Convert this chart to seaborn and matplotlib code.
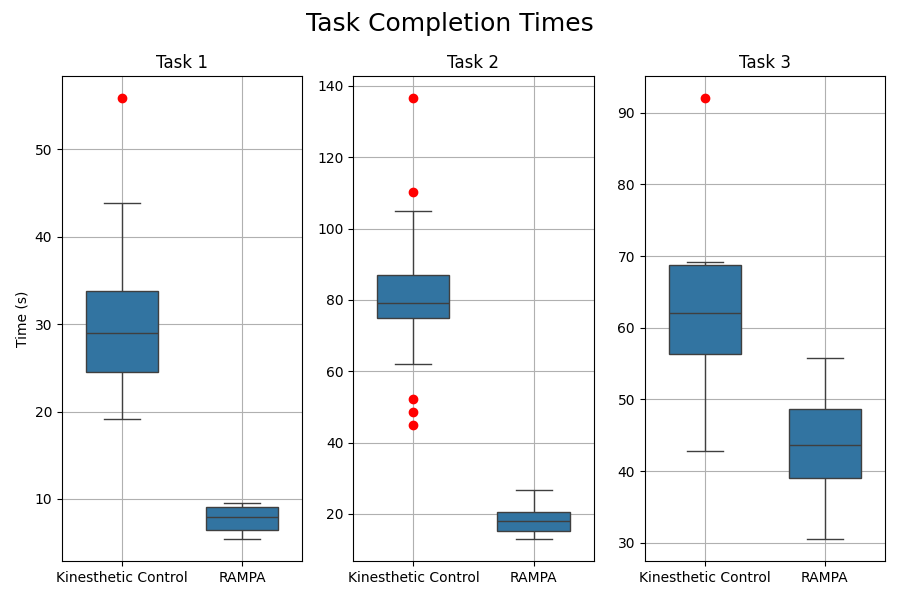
import numpy as np
import pandas as pd
import seaborn as sns
import matplotlib.pyplot as plt

methods = ["Kinesthetic Control", "RAMPA"]
tasks = ["Task 1", "Task 2", "Task 3"]

# times in seconds
task1_kc = [19.1, 22.0, 24.5, 27.0, 29.0, 31.0, 33.8, 43.8, 55.8]
task1_rampa = [5.4, 6.5, 7.9, 9.1, 9.5]
task2_kc = [44.8, 48.6, 52.2, 62.0, 74.8, 76.0, 77.0, 78.0, 79.0,
            81.0, 83.0, 85.0, 87.0, 95.0, 105.0, 110.3, 136.5]
task2_rampa = [12.9, 15.3, 17.9, 20.6, 26.8]
task3_kc = [42.8, 50.0, 56.4, 59.0, 62.0, 65.0, 68.7, 69.2, 92.0]
task3_rampa = [30.5, 39.1, 43.7, 48.7, 55.8]

data = {
    "Task 1": (task1_kc, task1_rampa),
    "Task 2": (task2_kc, task2_rampa),
    "Task 3": (task3_kc, task3_rampa),
}

fig, axes = plt.subplots(1, 3, figsize=(9, 6), dpi=100)

for ax, task in zip(axes, tasks):
    kc, rampa = data[task]
    df = pd.DataFrame({
        "method": [methods[0]] * len(kc) + [methods[1]] * len(rampa),
        "time": kc + rampa,
    })
    sns.boxplot(data=df, x="method", y="time", ax=ax, width=0.6,
                color="#1f77b4",
                flierprops=dict(marker="o", markerfacecolor="red",
                                markeredgecolor="red", markersize=6))
    ax.set_title(task)
    ax.set_xlabel("")
    ax.set_ylabel("")
    ax.grid(True)
    ax.set_axisbelow(True)

axes[0].set_ylabel("Time (s)")
fig.suptitle("Task Completion Times", fontsize=18)
plt.tight_layout()
plt.savefig("out.png")
